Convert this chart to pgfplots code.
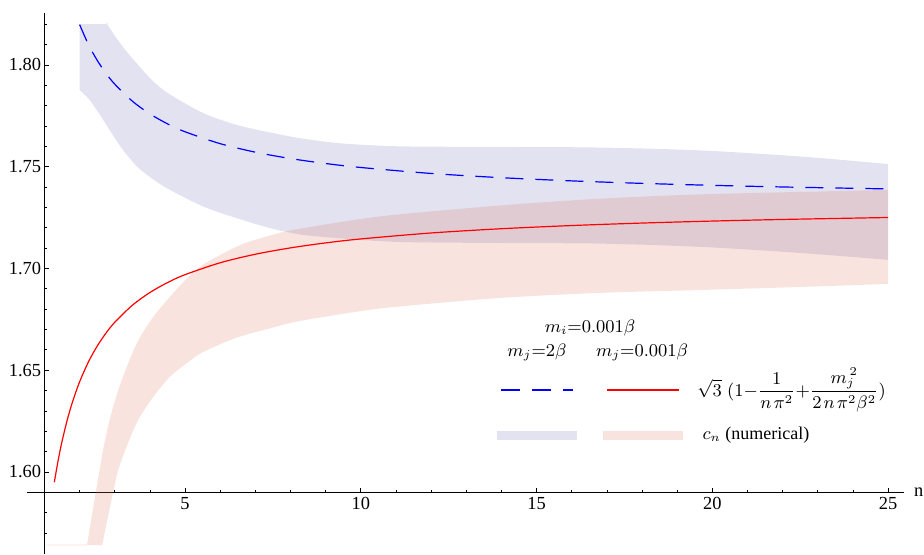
\documentclass[border=0pt]{standalone}
\usepackage{pgfplots}
\pgfplotsset{compat=1.18}
\usepgfplotslibrary{fillbetween}
\usepackage{fontspec}
\setmainfont{Liberation Serif}

\definecolor{bandblue}{RGB}{110,110,185}
\definecolor{bandred}{RGB}{225,115,90}

\begin{document}
\begin{tikzpicture}
\begin{axis}[
    x=17.575pt, y=1017.5pt,           % 1px = 0.5pt
    xmin=0.5, xmax=25.44,
    ymin=1.5597, ymax=1.8256,
    axis x line=bottom, axis y line=left,
    axis x line shift=-30.83pt,       % x axis at y=1.59
    axis y line shift=-8.79pt,        % y axis at x=1
    axis line style={-, line width=0.5pt},
    clip=false,
    tick align=inside,
    xtick={5,10,15,20,25},
    minor xtick={2,3,4,6,7,8,9,11,12,13,14,16,17,18,19,21,22,23,24},
    ytick={1.60,1.65,1.70,1.75,1.80},
    minor ytick={1.57,1.58,1.59,1.61,1.62,1.63,1.64,1.66,1.67,1.68,1.69,1.71,1.72,1.73,1.74,1.76,1.77,1.78,1.79,1.81,1.82},
    major tick length=2.2pt, minor tick length=1.4pt,
    tick style={black, line width=0.4pt},
    ticklabel style={font=\fontsize{9.2}{11}\selectfont},
    /pgf/number format/assume math mode=true,
    xticklabel style={inner ysep=2.5pt},
    yticklabel style={inner xsep=1.5pt, /pgf/number format/.cd, fixed, fixed zerofill, precision=2},
]

% numerical c_n, m_j = 2 beta (band edges)
\addplot[name path=bt, draw=none, smooth] coordinates {
    (2.0,1.82) (2.77,1.82) (2.78,1.82) (3.15,1.8107) (3.62,1.8008) (4.10,1.7918)
    (4.57,1.7855) (5.52,1.7763) (6.47,1.7705) (7.42,1.7668) (8.27,1.7640)
    (9.41,1.7615) (11.1,1.7600) (14,1.7597) (16.8,1.7594) (19.65,1.7580)
    (22.5,1.7550) (25,1.7513)
};
\addplot[name path=bb, draw=none, smooth] coordinates {
    (2.0,1.7877) (2.3,1.7825) (2.67,1.7730) (3.15,1.7602) (3.62,1.7503)
    (4.10,1.7437) (4.57,1.7386) (5.52,1.7304) (6.47,1.7247) (7.42,1.7198)
    (8.27,1.7167) (9.41,1.7148) (11.1,1.7130) (14,1.7125) (16.8,1.7122)
    (19.65,1.7106) (22.5,1.7076) (25,1.7042)
};
\addplot[bandblue, fill opacity=0.2, draw=none] fill between[of=bt and bb];

% numerical c_n, m_j = 0.001 beta (band edges)
\addplot[name path=rt, draw=none, smooth] coordinates {
    (2.21,1.5641) (2.45,1.5890) (2.67,1.6110) (2.86,1.6260) (3.15,1.6428)
    (3.62,1.6630) (4.10,1.6763) (4.57,1.6861) (5.05,1.6950) (5.52,1.7020)
    (6.47,1.7107) (7.04,1.7143) (8.07,1.7189) (10,1.7243) (11.1,1.7266)
    (14,1.7310) (16.8,1.7343) (19.65,1.7364) (22.5,1.7376) (25,1.7386)
};
\addplot[name path=rb, draw=none, smooth] coordinates {
    (2.64,1.5641) (2.95,1.5897) (3.15,1.6038) (3.62,1.6240) (4.10,1.6370)
    (4.57,1.6468) (5.05,1.6535) (5.52,1.6590) (6.47,1.6660) (7.42,1.6706)
    (8.27,1.6742) (9.98,1.6790) (11.1,1.6813) (13.96,1.6855) (16.8,1.6880)
    (19.65,1.6894) (22.5,1.6909) (25,1.6924)
};
\addplot[bandred, fill opacity=0.2, draw=none] fill between[of=rt and rb];
\addplot[bandred, opacity=0.08, line width=0.6pt] coordinates {(1.07,1.5641) (2.21,1.5641)};

% sqrt3 (1 + 1/(n pi^2)), m_j = 2 beta
\addplot[blue, line width=0.6pt, smooth, dash pattern=on 9pt off 6pt] coordinates {
    (2.0,1.81980) (2.25,1.81005) (2.5,1.80225) (2.75,1.79587) (3,1.79055)
    (3.5,1.78219) (4,1.77592) (4.5,1.77105) (5,1.76715) (6,1.76130)
    (7,1.75712) (8,1.75399) (9,1.75155) (10,1.74960) (12,1.74667)
    (14,1.74459) (16,1.74302) (18,1.74180) (20,1.74083) (22,1.74003)
    (25,1.73907)
};

% sqrt3 (1 - 1/(n pi^2)), m_j = 0.001 beta
\addplot[red, line width=0.6pt, smooth] coordinates {
    (1.28,1.59495) (1.4,1.60670) (1.5,1.61506) (1.65,1.62569) (1.8,1.63455)
    (2,1.64430) (2.25,1.65405) (2.5,1.66185) (2.75,1.66823) (3,1.67355)
    (3.5,1.68191) (4,1.68818) (4.5,1.69305) (5,1.69695) (6,1.70280)
    (7,1.70698) (8,1.71011) (9,1.71255) (10,1.71450) (12,1.71743)
    (14,1.71952) (16,1.72108) (18,1.72230) (20,1.72328) (22,1.72407)
    (25,1.72503)
};

% legend
\begin{scope}[font=\fontsize{9}{11}\selectfont]
\node at (axis cs:16.52,1.6708) {$m_i{=}0.001\beta$};
\node at (axis cs:15.01,1.6585) {$m_j{=}2\beta$};
\node at (axis cs:18.0,1.6585) {$m_j{=}0.001\beta$};
\draw[blue, line width=0.6pt, dash pattern=on 9.5pt off 6pt] (axis cs:13.99,1.6403) -- (axis cs:16.04,1.6403);
\draw[red, line width=0.6pt] (axis cs:17.0,1.6403) -- (axis cs:19.05,1.6403);
\node[anchor=west, inner sep=0pt, font=\fontsize{8.6}{10}\selectfont] at (axis cs:19.56,1.6403)
    {$\displaystyle\sqrt{3}\;(1{-}\frac{1}{n\mkern2mu\pi^2}{+}\frac{m_j^{\,2}}{2\mkern2mu n\mkern2mu\pi^2\beta^2})$};
\fill[bandblue, opacity=0.2] (axis cs:13.87,1.6202) rectangle (axis cs:16.15,1.6157);
\fill[bandred, opacity=0.2] (axis cs:16.89,1.6202) rectangle (axis cs:19.17,1.6157);
\node[anchor=west, inner sep=0pt] at (axis cs:19.71,1.6182) {$c_n$ (numerical)};
\end{scope}

\node[anchor=west, inner sep=0pt, xshift=5pt, font=\fontsize{9.2}{11}\selectfont] at (axis cs:25.44,1.59) {n};

% picture frame
\path (axis cs:-0.265,1.8319) (axis cs:26.02,1.5597);
\end{axis}
\end{tikzpicture}
\end{document}
